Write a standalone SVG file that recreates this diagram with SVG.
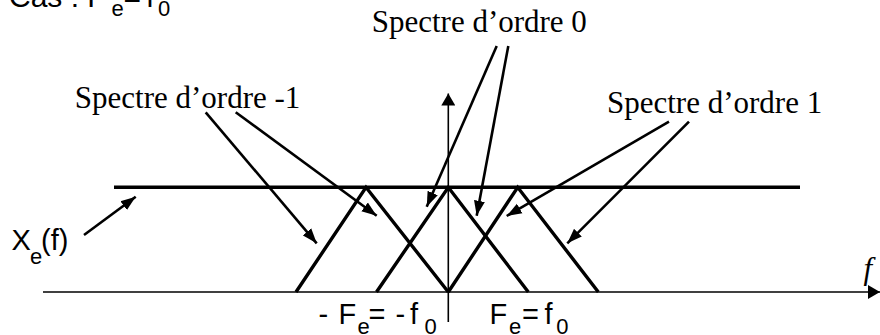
<svg xmlns="http://www.w3.org/2000/svg" width="880" height="335" viewBox="0 0 880 335">
<style>
.sans{font-family:"Liberation Sans",Arial,sans-serif;fill:#000}
.serif{font-family:"Liberation Serif","Times New Roman",serif;fill:#000;font-size:31px}
.axis{stroke:#000;stroke-width:1.6;fill:none}
.spec{stroke:#000;stroke-width:3.4;fill:none;stroke-linejoin:miter;stroke-miterlimit:10}
.ptr{stroke:#000;stroke-width:2.6;fill:none}
</style>
<defs>
<marker id="ah" markerUnits="userSpaceOnUse" markerWidth="16" markerHeight="12" refX="15" refY="6" orient="auto">
<path d="M0,0.5 L15,6 L0,11.5 Z" fill="#000"/>
</marker>
<marker id="axh" markerUnits="userSpaceOnUse" markerWidth="13" markerHeight="14" refX="12" refY="7" orient="auto">
<path d="M0,0 L12,7 L0,14 Z" fill="#000"/>
</marker>
</defs>

<g id="axes">
<line class="axis" x1="43" y1="292" x2="880" y2="292" marker-end="url(#axh)"/>
<line class="axis" x1="448.3" y1="322" x2="448.3" y2="93.5" marker-end="url(#axh)"/>
</g>

<g id="Xe-line">
<line class="spec" x1="114" y1="187.3" x2="800" y2="187.3"/>
</g>

<g id="spectre-m1">
<polyline class="spec" points="296,292 366,187.3 448.3,292"/>
</g>
<g id="spectre-0">
<polyline class="spec" points="376.5,292 448.3,187.3 528.3,292"/>
</g>
<g id="spectre-1">
<polyline class="spec" points="448.3,292 517.7,187.3 598.3,292"/>
</g>

<g id="connectors">
<line class="ptr" x1="205.7" y1="112.3" x2="316.7" y2="243.3" marker-end="url(#ah)"/>
<line class="ptr" x1="235.7" y1="112.3" x2="376.7" y2="215.7" marker-end="url(#ah)"/>
<line class="ptr" x1="496.7" y1="46" x2="426.7" y2="206.7" marker-end="url(#ah)"/>
<line class="ptr" x1="508.3" y1="46" x2="476.7" y2="215.7" marker-end="url(#ah)"/>
<line class="ptr" x1="669" y1="121.7" x2="506.7" y2="216" marker-end="url(#ah)"/>
<line class="ptr" x1="689" y1="121.7" x2="567.3" y2="243.3" marker-end="url(#ah)"/>
<line class="ptr" x1="84" y1="235" x2="135.7" y2="196.7" marker-end="url(#ah)"/>
</g>

<g id="label-title">
<text class="sans" font-size="30"><tspan x="9" y="7">Cas : F</tspan><tspan x="111.5" y="16" font-size="22">e</tspan><tspan x="123.5" y="7">=</tspan><tspan x="146" y="7">f</tspan><tspan x="158" y="16" font-size="22">0</tspan></text>
</g>
<g id="label-ordre0">
<text class="serif" x="371.7" y="32">Spectre d’ordre 0</text>
</g>
<g id="label-ordre-1">
<text class="serif" x="74.8" y="108.3">Spectre d’ordre -1</text>
</g>
<g id="label-ordre1">
<text class="serif" x="607" y="113.3">Spectre d’ordre 1</text>
</g>
<g id="label-Xe">
<text class="sans" font-size="29"><tspan x="11.5" y="250">X</tspan><tspan x="30" y="264" font-size="22">e</tspan><tspan x="41" y="250">(f)</tspan></text>
</g>
<g id="label-f">
<text x="863.5" y="278.5" font-family="'Liberation Serif','Times New Roman',serif" font-style="italic" font-size="31">f</text>
</g>
<g id="label-mFe">
<text class="sans" font-size="29"><tspan x="318.5" y="324.3">-</tspan><tspan x="338.5" y="324.3">F</tspan><tspan x="357.4" y="333.5" font-size="22">e</tspan><tspan x="368.5" y="324.3">=</tspan><tspan x="395.5" y="324.3">-</tspan><tspan x="410" y="324.3">f</tspan><tspan x="424.5" y="333.5" font-size="22">0</tspan></text>
</g>
<g id="label-Fe">
<text class="sans" font-size="29"><tspan x="489.5" y="324.3">F</tspan><tspan x="509" y="333.5" font-size="22">e</tspan><tspan x="522" y="324.3">=</tspan><tspan x="544.5" y="324.3">f</tspan><tspan x="556.3" y="333.5" font-size="22">0</tspan></text>
</g>
</svg>
